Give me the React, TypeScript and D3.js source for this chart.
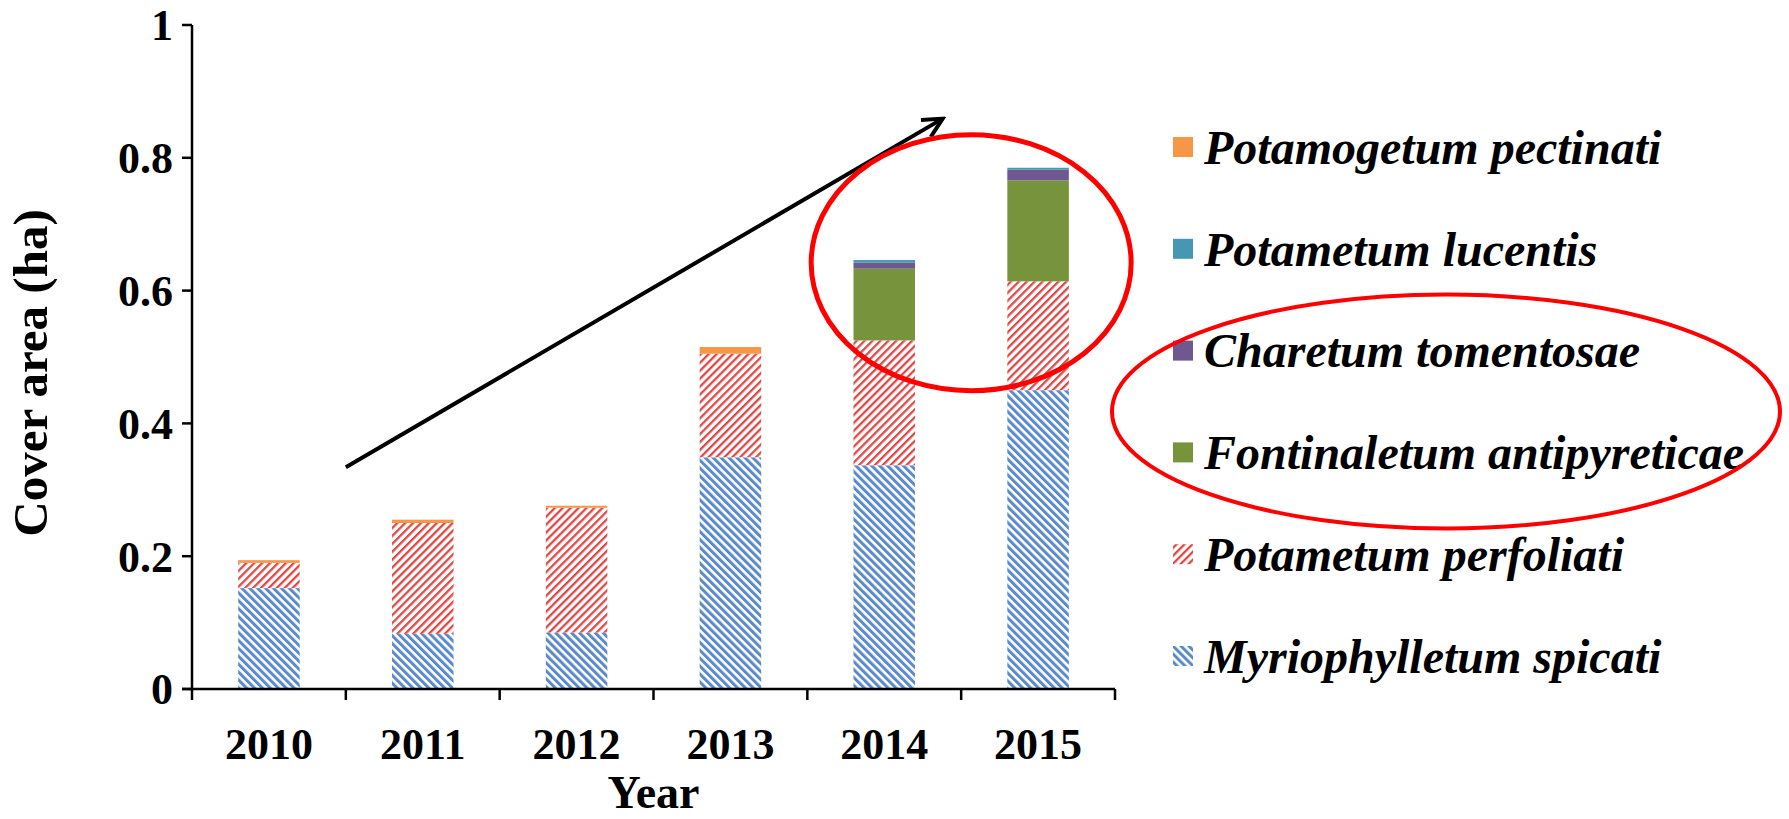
import React from 'react'
import * as d3 from 'd3'

const years = ['2010', '2011', '2012', '2013', '2014', '2015']
const myriophylletum = [0.152, 0.083, 0.085, 0.349, 0.337, 0.45]
const perfoliati = [0.038, 0.167, 0.188, 0.156, 0.188, 0.164]
const fontinaletum = [0, 0, 0, 0, 0.108, 0.152]
const charetum = [0, 0, 0, 0, 0.009, 0.016]
const lucentis = [0, 0, 0, 0, 0.004, 0.003]
const pectinati = [0.004, 0.005, 0.003, 0.01, 0, 0]
const yTicks = [0, 0.2, 0.4, 0.6, 0.8, 1]

// bottom to top
const series = [
  { name: 'Myriophylletum spicati', values: myriophylletum, fill: 'url(#blueHatch)' },
  { name: 'Potametum perfoliati', values: perfoliati, fill: 'url(#redHatch)' },
  { name: 'Fontinaletum antipyreticae', values: fontinaletum, fill: '#77933C' },
  { name: 'Charetum tomentosae', values: charetum, fill: '#6F5790' },
  { name: 'Potametum lucentis', values: lucentis, fill: '#4698B2' },
  { name: 'Potamogetum pectinati', values: pectinati, fill: '#F79646' },
]

const serif = '"Liberation Serif", "Times New Roman", serif'

export default function App() {
  const W = 1789
  const H = 819
  const x = d3.scaleBand().domain(years).range([192, 1115]).paddingInner(0.6).paddingOuter(0.3)
  const y = d3.scaleLinear().domain([0, 1]).range([689, 25])

  const rows = years.map((yr, i) => {
    const r: any = { year: yr }
    series.forEach(s => { r[s.name] = s.values[i] })
    return r
  })
  const stacked = d3.stack().keys(series.map(s => s.name))(rows)

  const step = x.step()
  const gap = (step - x.bandwidth()) / 2
  const bounds = years.map(yr => x(yr)! - gap).concat([x.range()[1]])

  // annotations
  const arrowX1 = x('2011')! - gap
  const arrowX2 = x('2014')! + x.bandwidth() + gap * 0.6
  const ell1x = x('2014')! + x.bandwidth() + gap + 10
  const legendX = 1173
  const legendY0 = 147
  const legendStep = 101.8
  const legendItems = series.slice().reverse()

  return (
    <svg width={W} height={H} style={{ position: 'absolute', left: 0, top: 0, background: '#fff' }}>
      <defs>
        <pattern id="blueHatch" patternUnits="userSpaceOnUse" width="5.6" height="5.6" patternTransform="rotate(-45)">
          <rect width="5.6" height="5.6" fill="#fff" />
          <rect width="3" height="5.6" fill="#5A8AC8" />
        </pattern>
        <pattern id="redHatch" patternUnits="userSpaceOnUse" width="5.6" height="5.6" patternTransform="rotate(45)">
          <rect width="5.6" height="5.6" fill="#fff" />
          <rect width="2.3" height="5.6" fill="#DB4A47" />
        </pattern>
        <marker id="arrowHead" viewBox="0 0 12 12" refX="10.5" refY="6" markerWidth="26" markerHeight="26"
          markerUnits="userSpaceOnUse" orient="auto">
          <path d="M1.5,1.5 L10.5,6 L1.5,10.5" fill="none" stroke="#000" strokeWidth="1.8" />
        </marker>
      </defs>

      {stacked.map((layer, si) => (
        <g key={layer.key} fill={series[si].fill}>
          {layer.map((d, i) => (
            d[1] - d[0] > 0 ? (
              <rect key={i} x={x(years[i])} width={x.bandwidth()} y={y(d[1])} height={y(d[0]) - y(d[1])} />
            ) : null
          ))}
        </g>
      ))}

      {/* axes */}
      <g stroke="#000" strokeWidth={2.5}>
        <line x1={x.range()[0]} x2={x.range()[0]} y1={y(1)} y2={y(0)} />
        <line x1={x.range()[0] - 10} x2={x.range()[1]} y1={y(0)} y2={y(0)} />
        {yTicks.map(t => (
          <line key={t} x1={x.range()[0] - 10} x2={x.range()[0]} y1={y(t)} y2={y(t)} />
        ))}
        {bounds.map((b, i) => (
          <line key={i} x1={b} x2={b} y1={y(0)} y2={y(0) + 11} />
        ))}
      </g>
      <g fontFamily={serif} fontWeight="bold" fontSize={44} fill="#000">
        {yTicks.map(t => (
          <text key={t} x={173} y={y(t)} dy="0.35em" textAnchor="end">{d3.format('~g')(t)}</text>
        ))}
        {years.map(yr => (
          <text key={yr} x={x(yr)! + x.bandwidth() / 2} y={759} textAnchor="middle">{yr}</text>
        ))}
      </g>
      <text x={(x.range()[0] + x.range()[1]) / 2} y={808} textAnchor="middle" fontFamily={serif}
        fontWeight="bold" fontSize={46}>Year</text>
      <text transform={`translate(47,${(y(0) + y(1)) / 2 + 16}) rotate(-90)`} textAnchor="middle"
        fontFamily={serif} fontWeight="bold" fontSize={49}>Cover area (ha)</text>

      {/* legend */}
      <g fontFamily={serif} fontWeight="bold" fontStyle="italic" fontSize={48}>
        {legendItems.map((s, i) => (
          <g key={s.name} transform={`translate(${legendX},${legendY0 + i * legendStep})`}>
            <rect x={0} y={-10} width={20} height={20} fill={s.fill} />
            <text x={31} y={0} dy="0.35em">{s.name}</text>
          </g>
        ))}
      </g>

      {/* trend arrow */}
      <line x1={arrowX1} y1={y(0.334)} x2={arrowX2} y2={y(0.859)} stroke="#000" strokeWidth={4}
        markerEnd="url(#arrowHead)" />

      {/* highlight ellipses */}
      <ellipse cx={ell1x} cy={y(0.642)} rx={160} ry={128} fill="none" stroke="#FF0000" strokeWidth={5} />
      <ellipse cx={1446} cy={legendY0 + 2.5 * legendStep + 10} rx={334} ry={117} fill="none"
        stroke="#FF0000" strokeWidth={4} />
    </svg>
  )
}
